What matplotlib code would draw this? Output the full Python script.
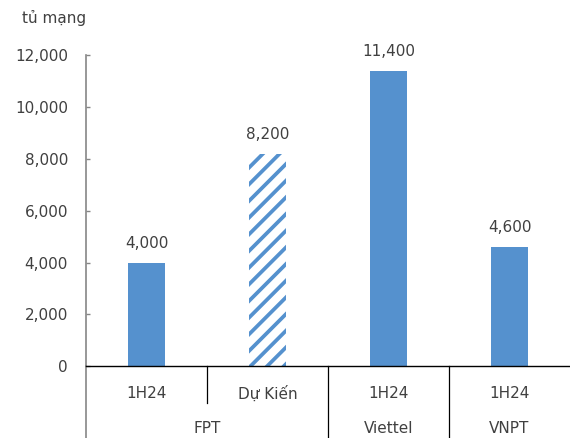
import matplotlib.pyplot as plt
import matplotlib.transforms as mtransforms
from matplotlib.lines import Line2D

# =============================
# DATA
# =============================
periods = ["1H24", "Dự Kiến", "1H24", "1H24"]
companies = ["FPT", "FPT", "Viettel", "VNPT"]
values = [4000, 8200, 11400, 4600]
hatched = [False, True, False, False]
y_ticks = [0, 2000, 4000, 6000, 8000, 10000, 12000]
unit_label = "tủ mạng"

# =============================
# STYLE
# =============================
BLUE = "#5591CE"
TEXT = "#404040"
plt.rcParams["font.family"] = ["DejaVu Sans"]
plt.rcParams["hatch.linewidth"] = 2.7

fig = plt.figure(figsize=(5.7, 4.38), dpi=100)
ax = fig.add_axes([0.151, 0.164, 0.849, 0.710])

x = list(range(len(values)))
for xi, v, h in zip(x, values, hatched):
    if h:
        ax.bar(xi, v, width=0.31, facecolor="white", edgecolor=BLUE,
               hatch="//", linewidth=0)
    else:
        ax.bar(xi, v, width=0.31, color=BLUE, linewidth=0)
    ax.text(xi, v + 450, f"{v:,}", ha="center", va="bottom",
            fontsize=11, color=TEXT)

ax.set_xlim(-0.5, len(values) - 0.5)
ax.set_ylim(0, 12000)
ax.set_yticks(y_ticks)
ax.set_yticklabels([f"{t:,}" for t in y_ticks])
ax.tick_params(axis="y", direction="in", length=3, width=1, color="#868686",
               labelsize=11, labelcolor=TEXT, pad=13)
ax.set_xticks([])

for s in ["top", "right"]:
    ax.spines[s].set_visible(False)
ax.spines["left"].set_color("#868686")
ax.spines["left"].set_linewidth(1.2)
ax.spines["bottom"].set_color("black")
ax.spines["bottom"].set_linewidth(1.0)

# category axis (two rows)
trans = mtransforms.blended_transform_factory(ax.transData, ax.transAxes)
row1 = -0.087
row2 = -0.199
bottom = -0.2315
for xi, p in zip(x, periods):
    ax.text(xi, row1, p, transform=trans, ha="center", va="center",
            fontsize=11, color=TEXT)

groups = []
for xi, c in zip(x, companies):
    if groups and groups[-1][0] == c:
        groups[-1][2] = xi
    else:
        groups.append([c, xi, xi])
for c, start, end in groups:
    ax.text((start + end) / 2, row2, c, transform=trans, ha="center",
            va="center", fontsize=11, color=TEXT)

# dividers
ax.add_line(Line2D([-0.5, -0.5], [0, bottom], transform=trans,
                   color="#868686", lw=1.2, clip_on=False))
for xi in range(len(values) - 1):
    long_line = companies[xi] != companies[xi + 1]
    ax.add_line(Line2D([xi + 0.5, xi + 0.5], [0, bottom if long_line else -0.119],
                       transform=trans, color="black", lw=0.9, clip_on=False))

fig.text(0.039, 0.958, unit_label, ha="left", va="center", fontsize=11,
         color=TEXT)

plt.savefig("out.png", dpi=100)
plt.close()
